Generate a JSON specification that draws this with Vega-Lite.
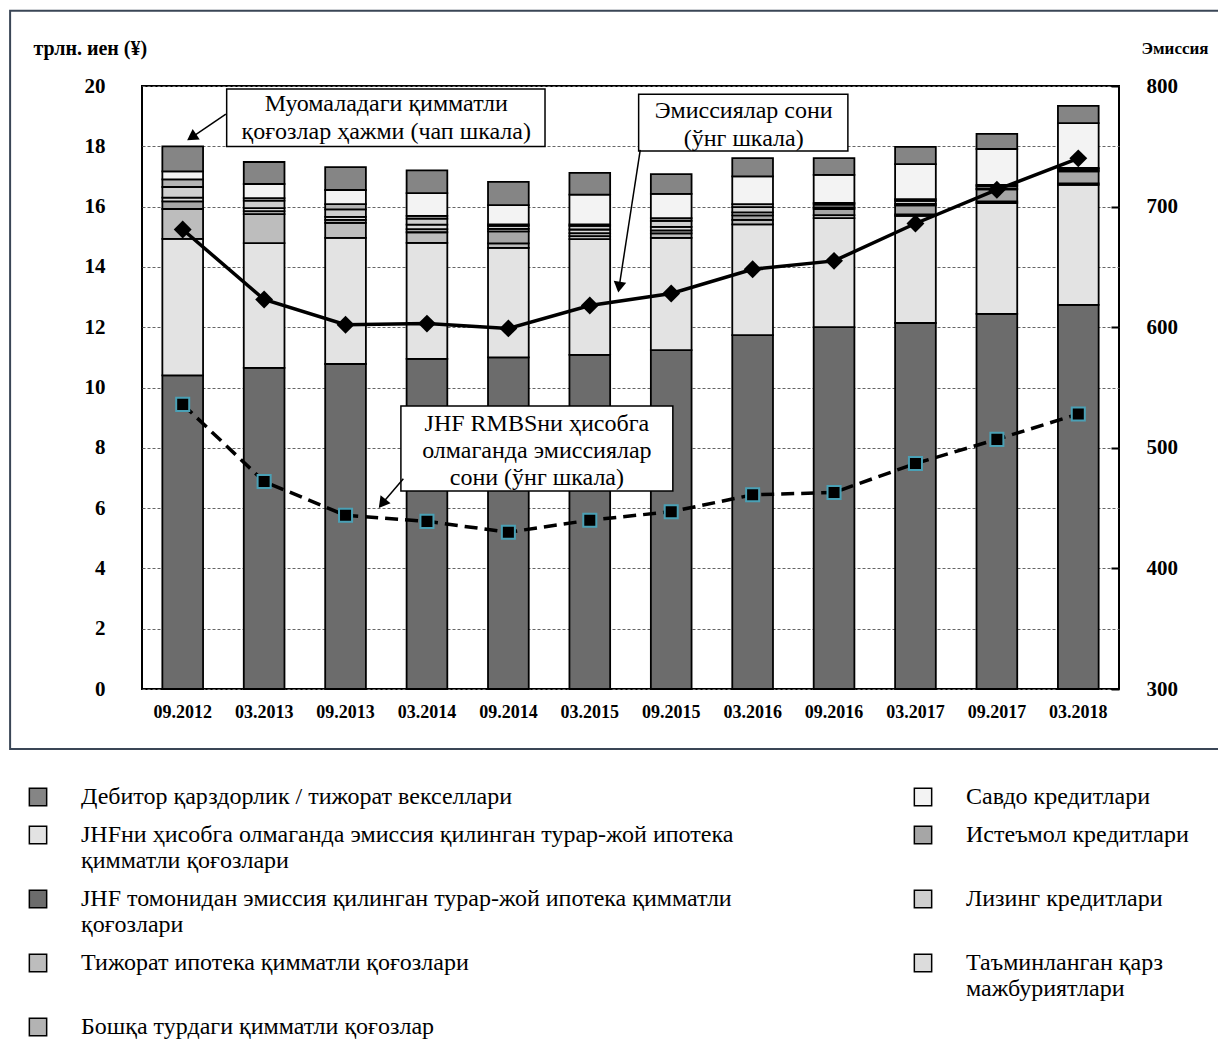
{
  "$schema": "https://vega.github.io/schema/vega-lite/v6.json",
  "width": 977,
  "height": 603,
  "padding": {"left": 9, "top": 9, "right": 0, "bottom": 0},
  "background": "white",
  "config": {
    "view": {"stroke": "#000", "strokeWidth": 2},
    "font": "Liberation Serif",
    "axis": {"labelFont": "Liberation Serif", "titleFont": "Liberation Serif", "labelColor": "#000", "titleColor": "#000"},
    "text": {"font": "Liberation Serif"}
  },
  "datasets": {
    "stock": [
      {"d": "09.2012", "jhf": 10.4, "nonjhf": 4.53, "cmbs": 0.99, "consumer": 0.25, "cdo": 0.13, "leasing": 0.35, "other": 0.25, "trade": 0.27, "rec": 0.83},
      {"d": "03.2013", "jhf": 10.65, "nonjhf": 4.14, "cmbs": 0.96, "consumer": 0.1, "cdo": 0.1, "leasing": 0.25, "other": 0.08, "trade": 0.47, "rec": 0.73},
      {"d": "09.2013", "jhf": 10.78, "nonjhf": 4.18, "cmbs": 0.5, "consumer": 0.1, "cdo": 0.1, "leasing": 0.25, "other": 0.17, "trade": 0.47, "rec": 0.76},
      {"d": "03.2014", "jhf": 10.95, "nonjhf": 3.85, "cmbs": 0.35, "consumer": 0.1, "cdo": 0.15, "leasing": 0.2, "other": 0.09, "trade": 0.76, "rec": 0.75},
      {"d": "09.2014", "jhf": 11.0, "nonjhf": 3.63, "cmbs": 0.15, "consumer": 0.4, "cdo": 0.08, "leasing": 0.1, "other": 0.05, "trade": 0.64, "rec": 0.77},
      {"d": "03.2015", "jhf": 11.08, "nonjhf": 3.84, "cmbs": 0.1, "consumer": 0.1, "cdo": 0.12, "leasing": 0.12, "other": 0.05, "trade": 0.99, "rec": 0.72},
      {"d": "09.2015", "jhf": 11.24, "nonjhf": 3.72, "cmbs": 0.15, "consumer": 0.1, "cdo": 0.12, "leasing": 0.2, "other": 0.09, "trade": 0.8, "rec": 0.66},
      {"d": "03.2016", "jhf": 11.74, "nonjhf": 3.67, "cmbs": 0.15, "consumer": 0.15, "cdo": 0.1, "leasing": 0.17, "other": 0.1, "trade": 0.92, "rec": 0.61},
      {"d": "09.2016", "jhf": 12.0, "nonjhf": 3.62, "cmbs": 0.1, "consumer": 0.2, "cdo": 0.05, "leasing": 0.1, "other": 0.05, "trade": 0.93, "rec": 0.56},
      {"d": "03.2017", "jhf": 12.14, "nonjhf": 3.55, "cmbs": 0.05, "consumer": 0.3, "cdo": 0.05, "leasing": 0.1, "other": 0.06, "trade": 1.16, "rec": 0.57},
      {"d": "09.2017", "jhf": 12.44, "nonjhf": 3.68, "cmbs": 0.05, "consumer": 0.4, "cdo": 0.03, "leasing": 0.08, "other": 0.04, "trade": 1.19, "rec": 0.5},
      {"d": "03.2018", "jhf": 12.74, "nonjhf": 3.98, "cmbs": 0.05, "consumer": 0.4, "cdo": 0.03, "leasing": 0.05, "other": 0.03, "trade": 1.49, "rec": 0.57}
    ],
    "emis": [
      {"d": "09.2012", "all": 681, "exjhf": 536},
      {"d": "03.2013", "all": 623, "exjhf": 472},
      {"d": "09.2013", "all": 602, "exjhf": 444},
      {"d": "03.2014", "all": 603, "exjhf": 439},
      {"d": "09.2014", "all": 599, "exjhf": 430},
      {"d": "03.2015", "all": 618, "exjhf": 440},
      {"d": "09.2015", "all": 628, "exjhf": 447},
      {"d": "03.2016", "all": 648, "exjhf": 461},
      {"d": "09.2016", "all": 655, "exjhf": 463},
      {"d": "03.2017", "all": 686, "exjhf": 487},
      {"d": "09.2017", "all": 714, "exjhf": 507},
      {"d": "03.2018", "all": 740, "exjhf": 528}
    ]
  },
  "layer": [
    {
      "data": {"values": [{}]},
      "mark": {"type": "rect", "fillOpacity": 0, "stroke": "#3a4656", "strokeWidth": 2, "clip": false},
      "encoding": {
        "x": {"datum": -1.62, "type": "quantitative", "scale": {"domain": [0, 12], "nice": false}, "axis": null},
        "x2": {"datum": 13.4},
        "y": {"datum": 22.5, "type": "quantitative", "scale": {"domain": [0, 20], "nice": false}, "axis": null},
        "y2": {"datum": -1.99}
      }
    },
    {
      "data": {"name": "stock"},
      "transform": [
        {"fold": ["jhf", "nonjhf", "cmbs", "consumer", "cdo", "leasing", "other", "trade", "rec"], "as": ["key", "v"]},
        {"calculate": "indexof(['jhf','nonjhf','cmbs','consumer','cdo','leasing','other','trade','rec'], datum.key)", "as": "stackOrder"}
      ],
      "mark": {"type": "bar", "stroke": "#000", "strokeWidth": 1.8},
      "encoding": {
        "x": {
          "field": "d", "type": "ordinal", "sort": null,
          "scale": {"paddingInner": 0.5, "paddingOuter": 0.25},
          "axis": {"title": null, "labelAngle": 0, "labelFontSize": 18, "labelFontWeight": "bold", "ticks": false, "labelPadding": 14, "domain": false}
        },
        "y": {
          "field": "v", "type": "quantitative", "stack": "zero",
          "scale": {"domain": [0, 20], "nice": false},
          "axis": {
            "title": "трлн. иен (¥)", "values": [0, 2, 4, 6, 8, 10, 12, 14, 16, 18, 20],
            "grid": true, "gridDash": [3, 2], "gridColor": "#666", "gridWidth": 1.2,
            "ticks": false, "domain": false, "labelPadding": 37, "labelFontSize": 21, "labelFontWeight": "bold",
            "titleAngle": 0, "titleX": -109, "titleY": -38, "titleAlign": "left", "titleBaseline": "middle",
            "titleFontSize": 20, "titleFontWeight": "bold"
          }
        },
        "color": {
          "field": "key", "type": "nominal",
          "scale": {
            "domain": ["rec", "nonjhf", "jhf", "cmbs", "other", "trade", "consumer", "leasing", "cdo"],
            "range": ["#858585", "#e3e3e3", "#6c6c6c", "#bdbdbd", "#b3b3b3", "#f3f3f3", "#a6a6a6", "#cfcfcf", "#dcdcdc"]
          },
          "legend": {
            "title": null, "orient": "none", "legendX": -116, "legendY": 699,
            "columns": 2, "columnPadding": 177, "rowPadding": 14,
            "symbolType": "square", "symbolSize": 300, "symbolStrokeColor": "#000", "symbolStrokeWidth": 1.5,
            "labelFont": "Liberation Serif", "labelFontSize": 24, "labelLimit": 900, "labelOffset": 31, "labelColor": "#000",
            "labelExpr": "datum.label == 'rec' ? 'Дебитор қарздорлик / тижорат векселлари' : datum.label == 'nonjhf' ? ['JHFни ҳисобга олмаганда эмиссия қилинган турар-жой ипотека', 'қимматли қоғозлари'] : datum.label == 'jhf' ? ['JHF томонидан эмиссия қилинган турар-жой ипотека қимматли', 'қоғозлари'] : datum.label == 'cmbs' ? 'Тижорат ипотека қимматли қоғозлари' : datum.label == 'other' ? 'Бошқа турдаги қимматли қоғозлар' : datum.label == 'trade' ? 'Савдо кредитлари' : datum.label == 'consumer' ? 'Истеъмол кредитлари' : datum.label == 'leasing' ? 'Лизинг кредитлари' : ['Таъминланган қарз', 'мажбуриятлари']"
          }
        },
        "order": {"field": "stackOrder", "type": "quantitative"}
      }
    },
    {
      "data": {"name": "emis"},
      "mark": {"type": "line", "color": "#000", "strokeWidth": 3.5, "point": {"shape": "diamond", "size": 320, "filled": true, "color": "#000"}},
      "encoding": {
        "x": {"field": "d", "type": "ordinal", "sort": null, "axis": null},
        "y": {
          "field": "all", "type": "quantitative", "scale": {"domain": [300, 800], "nice": false},
          "axis": {
            "orient": "right", "title": "Эмиссия", "values": [300, 400, 500, 600, 700, 800],
            "grid": false, "domain": false, "ticks": true, "tickSize": -8, "tickWidth": 2, "tickColor": "#000",
            "labelPadding": 35, "labelFontSize": 21, "labelFontWeight": "bold",
            "titleAngle": 0, "titleX": 22, "titleY": -38, "titleAlign": "left", "titleBaseline": "middle",
            "titleFontSize": 17, "titleFontWeight": "bold"
          }
        }
      }
    },
    {
      "data": {"name": "emis"},
      "mark": {"type": "line", "color": "#000", "strokeWidth": 3.5, "strokeDash": [13, 7], "point": {"shape": "square", "size": 170, "filled": true, "fill": "#000", "stroke": "#4aa0b5", "strokeWidth": 2}},
      "encoding": {
        "x": {"field": "d", "type": "ordinal", "sort": null, "axis": null},
        "y": {"field": "exjhf", "type": "quantitative", "scale": {"domain": [300, 800], "nice": false}, "axis": null}
      }
    },
    {
      "data": {"values": [{}]},
      "mark": {"type": "rect", "fill": "#fff", "stroke": "#000", "strokeWidth": 1.5},
      "encoding": {
        "x": {"datum": 1.04, "type": "quantitative", "scale": {"domain": [0, 12], "nice": false}, "axis": null},
        "x2": {"datum": 4.95},
        "y": {"datum": 19.9, "type": "quantitative", "scale": {"domain": [0, 20], "nice": false}, "axis": null},
        "y2": {"datum": 17.99}
      }
    },
    {
      "data": {"values": [{"t": "Муомаладаги қимматли\nқоғозлар ҳажми (чап шкала)"}]},
      "mark": {"type": "text", "font": "Liberation Serif", "fontSize": 24, "lineBreak": "\n", "lineHeight": 28, "align": "center", "baseline": "middle", "color": "#000"},
      "encoding": {
        "text": {"field": "t"},
        "x": {"datum": 3.0, "type": "quantitative", "scale": {"domain": [0, 12], "nice": false}, "axis": null},
        "y": {"datum": 19.4, "type": "quantitative", "scale": {"domain": [0, 20], "nice": false}, "axis": null}
      }
    },
    {
      "data": {"values": [{}]},
      "mark": {"type": "rule", "color": "#000", "strokeWidth": 1.5},
      "encoding": {
        "x": {"datum": 1.03, "type": "quantitative", "scale": {"domain": [0, 12], "nice": false}, "axis": null},
        "y": {"datum": 19.07, "type": "quantitative", "scale": {"domain": [0, 20], "nice": false}, "axis": null},
        "x2": {"datum": 0.61},
        "y2": {"datum": 18.3}
      }
    },
    {
      "data": {"values": [{}]},
      "mark": {"type": "point", "shape": "triangle-up", "filled": true, "color": "#000", "size": 160, "angle": 236, "opacity": 1},
      "encoding": {
        "x": {"datum": 0.61, "type": "quantitative", "scale": {"domain": [0, 12], "nice": false}, "axis": null},
        "y": {"datum": 18.3, "type": "quantitative", "scale": {"domain": [0, 20], "nice": false}, "axis": null}
      }
    },
    {
      "data": {"values": [{}]},
      "mark": {"type": "rect", "fill": "#fff", "stroke": "#000", "strokeWidth": 1.5},
      "encoding": {
        "x": {"datum": 6.1, "type": "quantitative", "scale": {"domain": [0, 12], "nice": false}, "axis": null},
        "x2": {"datum": 8.67},
        "y": {"datum": 19.73, "type": "quantitative", "scale": {"domain": [0, 20], "nice": false}, "axis": null},
        "y2": {"datum": 17.84}
      }
    },
    {
      "data": {"values": [{"t": "Эмиссиялар сони\n(ўнг шкала)"}]},
      "mark": {"type": "text", "font": "Liberation Serif", "fontSize": 24, "lineBreak": "\n", "lineHeight": 28, "align": "center", "baseline": "middle", "color": "#000"},
      "encoding": {
        "text": {"field": "t"},
        "x": {"datum": 7.39, "type": "quantitative", "scale": {"domain": [0, 12], "nice": false}, "axis": null},
        "y": {"datum": 19.17, "type": "quantitative", "scale": {"domain": [0, 20], "nice": false}, "axis": null}
      }
    },
    {
      "data": {"values": [{}]},
      "mark": {"type": "rule", "color": "#000", "strokeWidth": 1.5},
      "encoding": {
        "x": {"datum": 6.12, "type": "quantitative", "scale": {"domain": [0, 12], "nice": false}, "axis": null},
        "y": {"datum": 17.88, "type": "quantitative", "scale": {"domain": [0, 20], "nice": false}, "axis": null},
        "x2": {"datum": 5.86},
        "y2": {"datum": 13.33}
      }
    },
    {
      "data": {"values": [{}]},
      "mark": {"type": "point", "shape": "triangle-up", "filled": true, "color": "#000", "size": 160, "angle": 189, "opacity": 1},
      "encoding": {
        "x": {"datum": 5.86, "type": "quantitative", "scale": {"domain": [0, 12], "nice": false}, "axis": null},
        "y": {"datum": 13.33, "type": "quantitative", "scale": {"domain": [0, 20], "nice": false}, "axis": null}
      }
    },
    {
      "data": {"values": [{}]},
      "mark": {"type": "rect", "fill": "#fff", "stroke": "#000", "strokeWidth": 1.5},
      "encoding": {
        "x": {"datum": 3.18, "type": "quantitative", "scale": {"domain": [0, 12], "nice": false}, "axis": null},
        "x2": {"datum": 6.52},
        "y": {"datum": 9.39, "type": "quantitative", "scale": {"domain": [0, 20], "nice": false}, "axis": null},
        "y2": {"datum": 6.57}
      }
    },
    {
      "data": {"values": [{"t": "JHF RMBSни ҳисобга\nолмаганда эмиссиялар\nсони (ўнг шкала)"}]},
      "mark": {"type": "text", "font": "Liberation Serif", "fontSize": 24, "lineBreak": "\n", "lineHeight": 27, "align": "center", "baseline": "middle", "color": "#000"},
      "encoding": {
        "text": {"field": "t"},
        "x": {"datum": 4.85, "type": "quantitative", "scale": {"domain": [0, 12], "nice": false}, "axis": null},
        "y": {"datum": 8.79, "type": "quantitative", "scale": {"domain": [0, 20], "nice": false}, "axis": null}
      }
    },
    {
      "data": {"values": [{}]},
      "mark": {"type": "rule", "color": "#000", "strokeWidth": 1.5},
      "encoding": {
        "x": {"datum": 3.21, "type": "quantitative", "scale": {"domain": [0, 12], "nice": false}, "axis": null},
        "y": {"datum": 6.97, "type": "quantitative", "scale": {"domain": [0, 20], "nice": false}, "axis": null},
        "x2": {"datum": 2.95},
        "y2": {"datum": 6.15}
      }
    },
    {
      "data": {"values": [{}]},
      "mark": {"type": "point", "shape": "triangle-up", "filled": true, "color": "#000", "size": 160, "angle": 218, "opacity": 1},
      "encoding": {
        "x": {"datum": 2.95, "type": "quantitative", "scale": {"domain": [0, 12], "nice": false}, "axis": null},
        "y": {"datum": 6.15, "type": "quantitative", "scale": {"domain": [0, 20], "nice": false}, "axis": null}
      }
    }
  ],
  "resolve": {"scale": {"x": "independent", "y": "independent", "color": "independent"}}
}
